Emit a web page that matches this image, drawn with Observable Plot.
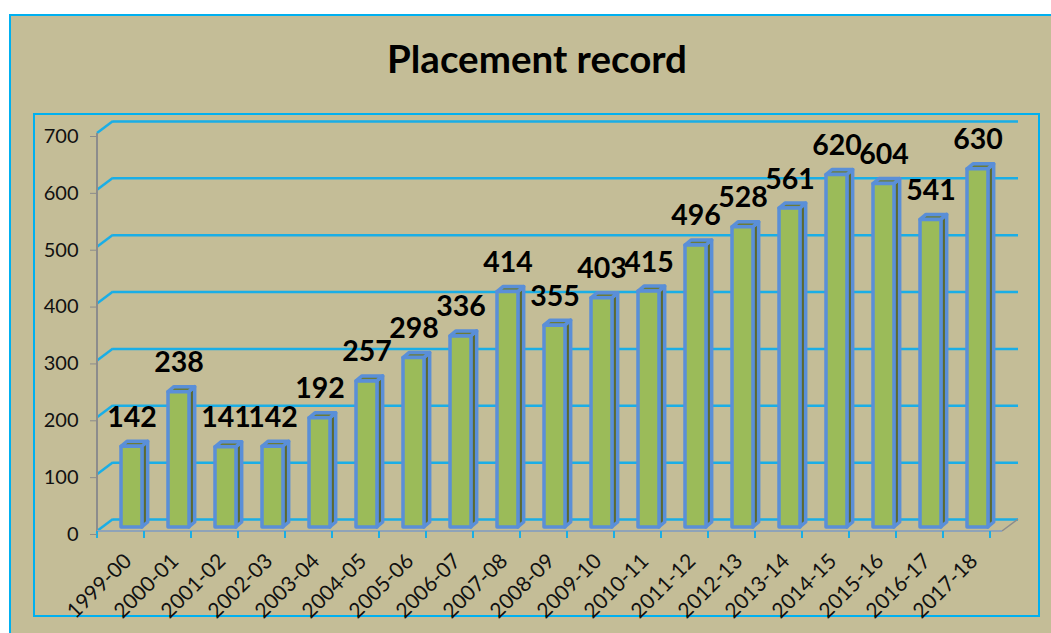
<!DOCTYPE html>
<html>
<head>
<meta charset="utf-8">
<script src="https://cdn.jsdelivr.net/npm/d3@7"></script>
<script src="https://cdn.jsdelivr.net/npm/@observablehq/plot@0.6"></script>
<style>
  html, body { margin: 0; padding: 0; background: #ffffff; overflow: hidden; }
  #outer { position: absolute; left: 8.5px; top: 14px; width: 1100px; height: 700px;
    background: #C4BD97; border: 2.5px solid #00B0F0; box-sizing: border-box; }
  #inner { position: absolute; left: 33px; top: 113px; width: 1006.5px; height: 504px;
    border: 2.5px solid #00B0F0; box-sizing: border-box; }
  #title { position: absolute; left: 0; width: 1074px; top: 35px; text-align: center;
    font-family: Lato, "Liberation Sans", sans-serif; font-weight: bold; font-size: 38.5px; color: #000; }
  #chart { position: absolute; left: 0; top: 0; }
</style>
</head>
<body>
<div id="outer"></div>
<div id="inner"></div>
<div id="title">Placement record</div>
<div id="chart"></div>
<script>
const categories = ["1999-00","2000-01","2001-02","2002-03","2003-04","2004-05","2005-06","2006-07","2007-08","2008-09","2009-10","2010-11","2011-12","2012-13","2013-14","2014-15","2015-16","2016-17","2017-18"];
const placements = [142,238,141,142,192,257,298,336,414,355,403,415,496,528,561,620,604,541,630];
const yTicks = [0,100,200,300,400,500,600,700];

const data = categories.map((c, i) => ({cat: c, v: placements[i]}));

const PI = 0.56, PO = 0.28;          // band padding
const DX = 5, DY = -4;               // front-face shift
const DEPTH_X = 6, DEPTH_Y = -5;     // bar depth
const WALL_X = 16, WALL_Y = -12;     // back wall depth
const GRID = "#1AAEE6", BLUE = "#5A8FD8", GREEN = "#9BBB59";

// back wall diagonals, x ticks, axis lines
function frameMark(index, scales, values, dim) {
  const g = d3.create("svg:g");
  const x0 = dim.marginLeft, x1 = dim.width - dim.marginRight;
  const y = scales.y;
  for (const t of yTicks) {
    g.append("line").attr("x1", x0).attr("y1", y(t)).attr("x2", x0 + WALL_X).attr("y2", y(t) + WALL_Y)
      .attr("stroke", GRID).attr("stroke-width", 2.5);
  }
  g.append("line").attr("x1", x1).attr("y1", y(0)).attr("x2", x1 + WALL_X).attr("y2", y(0) + WALL_Y)
    .attr("stroke", "#8c8c8c").attr("stroke-width", 1.5);
  g.append("line").attr("x1", x0).attr("y1", y(700)).attr("x2", x0).attr("y2", y(0))
    .attr("stroke", "#8c8c8c").attr("stroke-width", 2);
  g.append("line").attr("x1", x0).attr("y1", y(0)).attr("x2", x1).attr("y2", y(0))
    .attr("stroke", "#8fa3b8").attr("stroke-width", 2);
  const step = scales.x(categories[1]) - scales.x(categories[0]);
  for (let i = 0; i <= categories.length; i++) {
    const xi = x0 + i * step;
    g.append("line").attr("x1", xi).attr("y1", y(0)).attr("x2", xi).attr("y2", y(0) + 7)
      .attr("stroke", GRID).attr("stroke-width", 2);
  }
  return g.node();
}

// side and top faces of the 3D bars
function facesMark(index, scales, values, dim) {
  const g = d3.create("svg:g");
  const step = scales.x(categories[1]) - scales.x(categories[0]);
  const bw = step * (1 - PI);
  for (const d of data) {
    const xl = scales.x(d.cat) + DX, xr = xl + bw;
    const yt = scales.y(d.v) + DY, yb = scales.y(0) + DY;
    g.append("polygon")
      .attr("points", [[xr, yt], [xr + DEPTH_X, yt + DEPTH_Y], [xr + DEPTH_X, yb + DEPTH_Y], [xr, yb]].map(p => p.join(",")).join(" "))
      .attr("fill", "#5C6A30").attr("stroke", BLUE).attr("stroke-width", 3.5).attr("stroke-linejoin", "round");
    g.append("polygon")
      .attr("points", [[xl, yt], [xl + DEPTH_X, yt + DEPTH_Y], [xr + DEPTH_X, yt + DEPTH_Y], [xr, yt]].map(p => p.join(",")).join(" "))
      .attr("fill", "#6B7B38").attr("stroke", BLUE).attr("stroke-width", 3.5).attr("stroke-linejoin", "round");
  }
  return g.node();
}

const chart = Plot.plot({
  width: 1051,
  height: 633,
  marginLeft: 97,
  marginRight: 49,
  marginTop: 133,
  marginBottom: 102,
  style: {background: "transparent", fontFamily: "Lato, 'Liberation Sans', sans-serif", color: "#111"},
  x: {type: "band", domain: categories, paddingInner: PI, paddingOuter: PO, label: null},
  y: {domain: [0, 700], label: null},
  marks: [
    Plot.ruleY(yTicks, {dx: WALL_X, dy: WALL_Y, stroke: GRID, strokeWidth: 2.5}),
    frameMark,
    Plot.axisY({ticks: yTicks, tickSize: 7, tickPadding: 12, fontSize: 20, stroke: "#8c8c8c", dy: 3, label: null}),
    Plot.axisX({tickRotate: -45, tickSize: 0, tickPadding: 26, fontSize: 21, dx: 1, label: null}),
    facesMark,
    Plot.rectY(data, {x: "cat", y: "v", dx: DX, dy: DY, fill: GREEN, stroke: BLUE, strokeWidth: 3.5, strokeLinejoin: "round"}),
    Plot.text(data, {x: "cat", y: "v", text: d => String(d.v), dx: DX, dy: -24, lineAnchor: "bottom",
      fontSize: 28.5, fontWeight: "bold", fill: "#000"})
  ]
});
document.getElementById("chart").appendChild(chart);
</script>
</body>
</html>
